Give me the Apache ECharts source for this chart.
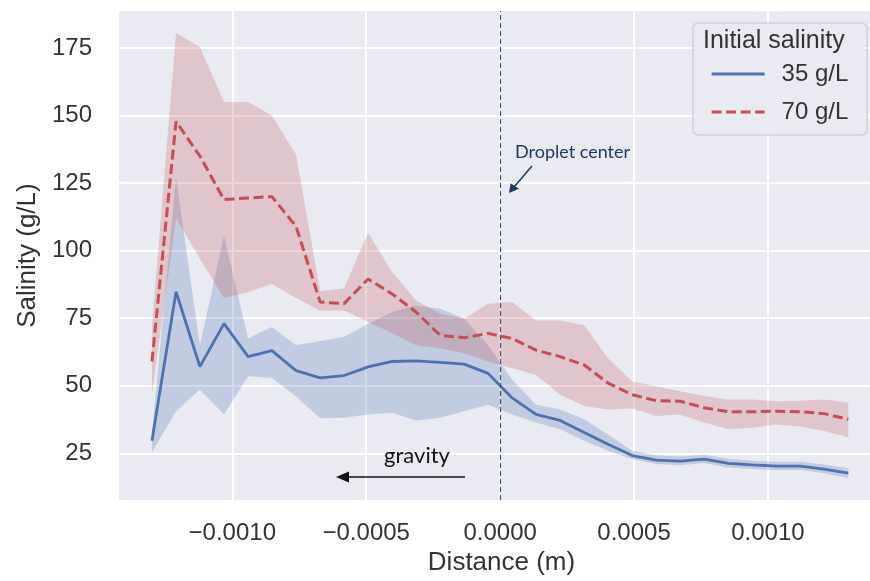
<!DOCTYPE html>
<html>
<head>
<meta charset="utf-8">
<script src="https://cdn.jsdelivr.net/npm/echarts@6/dist/echarts.min.js"></script>
<style>
html,body{margin:0;padding:0;background:#ffffff;}
#chart{width:870px;height:581px;}
</style>
</head>
<body>
<div id="chart"></div>
<script>
// ---- data ----
const distance = [-0.001300, -0.001210, -0.001121, -0.001031, -0.000941, -0.000852, -0.000762, -0.000672,
  -0.000583, -0.000493, -0.000403, -0.000314, -0.000224, -0.000134, -0.000045, 0.000045, 0.000134,
  0.000224, 0.000314, 0.000403, 0.000493, 0.000583, 0.000672, 0.000762, 0.000852, 0.000941,
  0.001031, 0.001121, 0.001210, 0.001300];

const mean35 = [29.7, 84.8, 57.1, 73.0, 60.8, 63.0, 55.6, 52.9, 53.8, 57.0, 59.0, 59.2, 58.7, 58.0, 54.6,
  45.5, 39.4, 37.2, 32.7, 28.4, 24.2, 22.5, 22.1, 22.9, 21.3, 20.7, 20.3, 20.3, 19.2, 17.7];
const high35 = [32.0, 127.0, 65.0, 105.5, 67.5, 71.8, 65.0, 66.6, 68.1, 73.0, 77.3, 79.7, 78.5, 74.9, 65.0,
  52.2, 43.0, 41.2, 37.6, 32.0, 26.0, 24.3, 23.8, 24.5, 23.0, 22.3, 21.9, 21.9, 20.9, 19.5];
const low35 = [25.4, 40.6, 48.6, 39.4, 53.5, 52.9, 46.0, 38.0, 38.2, 39.4, 40.0, 37.2, 38.2, 40.6, 43.0,
  39.4, 36.4, 33.9, 29.7, 26.0, 22.9, 21.1, 20.6, 21.4, 19.8, 19.2, 18.8, 18.8, 17.6, 15.8];

const mean70 = [59.0, 147.8, 135.0, 118.9, 119.5, 120.0, 109.0, 81.0, 80.4, 89.5, 84.0, 77.3, 68.7, 67.8, 69.4,
  67.5, 63.2, 60.8, 57.7, 51.0, 46.7, 44.5, 44.3, 41.9, 40.4, 40.4, 40.6, 40.4, 39.7, 37.6];
const high70 = [72.0, 180.6, 175.4, 155.0, 155.0, 150.0, 135.5, 85.0, 86.0, 106.6, 92.0, 81.6, 76.7, 74.9, 80.4,
  81.0, 74.2, 74.2, 72.4, 60.2, 51.6, 49.8, 48.0, 46.2, 44.9, 44.9, 44.3, 44.5, 44.9, 43.7];
const low70 = [47.0, 112.0, 97.0, 82.5, 84.6, 87.7, 82.5, 77.8, 77.9, 73.6, 69.4, 65.0, 63.9, 62.0, 59.0,
  56.5, 54.1, 46.7, 42.5, 41.2, 41.6, 38.8, 39.4, 36.4, 33.9, 34.5, 35.7, 34.9, 33.3, 30.9];

const xTicks = [-0.0010, -0.0005, 0.0000, 0.0005, 0.0010];
const yTicks = [25, 50, 75, 100, 125, 150, 175];
const seriesNames = ['35 g/L', '70 g/L'];
const legendTitle = 'Initial salinity';
const dropletCenterX = 0;

// ---- helpers ----
const pairs = ys => distance.map((x, i) => [x, ys[i]]);

const FONT = 'Liberation Sans';
const TXT = '#333333';
const BLUE = '#4C72B0';
const RED = '#C44E52';

function bandSeries(lo, hi, fill) {
  return {
    type: 'custom', silent: true, z: 1, clip: true,
    data: distance.map((x, i) => [x, lo[i], hi[i]]),
    encode: {x: 0, y: [1, 2]},
    renderItem: (params, api) => {
      if (params.dataIndex !== 0) return null;
      const top = distance.map((x, i) => api.coord([x, hi[i]]));
      const bot = distance.map((x, i) => api.coord([x, lo[i]])).reverse();
      return {type: 'polygon', shape: {points: top.concat(bot)}, style: {fill: fill}};
    }
  };
}

const chart = echarts.init(document.getElementById('chart'), null, {renderer: 'canvas'});

const option = {
  animation: false,
  backgroundColor: '#ffffff',
  grid: {left: 119, top: 11, right: 0, bottom: 78, show: true, backgroundColor: '#EAEAF2', borderWidth: 0},
  xAxis: {
    type: 'value', min: -0.001423, max: 0.001381,
    axisLine: {show: false},
    axisTick: {show: false, customValues: xTicks},
    axisLabel: {customValues: xTicks, margin: 21, fontSize: 24, color: TXT, fontFamily: FONT,
      formatter: v => (v < 0 ? '\u2212' : '') + Math.abs(v).toFixed(4)},
    splitLine: {show: true, lineStyle: {color: '#ffffff', width: 2}},
    name: 'Distance (m)', nameLocation: 'middle', nameGap: 46,
    nameTextStyle: {fontSize: 26, color: TXT, fontFamily: FONT, padding: [0, 0, 0, 14]}
  },
  yAxis: {
    type: 'value', min: 7.7, max: 188.7,
    axisLine: {show: false},
    axisTick: {show: false, customValues: yTicks},
    axisLabel: {customValues: yTicks, margin: 27, fontSize: 24, color: TXT, fontFamily: FONT},
    splitLine: {show: true, lineStyle: {color: '#ffffff', width: 2}},
    name: 'Salinity (g/L)', nameLocation: 'middle', nameGap: 78,
    nameTextStyle: {fontSize: 26, color: TXT, fontFamily: FONT}
  },
  legend: {
    orient: 'vertical', left: 710, top: 62, padding: 0,
    itemWidth: 53, itemHeight: 14, itemGap: 14,
    data: seriesNames,
    itemStyle: {opacity: 0, borderWidth: 0},
    lineStyle: {width: 3.2},
    textStyle: {fontSize: 24, color: TXT, fontFamily: FONT, padding: [0, 0, 0, 12]}
  },
  series: [
    bandSeries(low35, high35, 'rgba(76,114,176,0.26)'),
    bandSeries(low70, high70, 'rgba(196,78,82,0.24)'),
    {type: 'line', name: seriesNames[0], data: pairs(mean35), symbol: 'none', color: BLUE,
      lineStyle: {color: BLUE, width: 2.8}, z: 2},
    {type: 'line', name: seriesNames[1], data: pairs(mean70), symbol: 'none', color: RED,
      lineStyle: {color: RED, width: 3, type: [10, 4.5]}, z: 2,
      markLine: {silent: true, symbol: ['none', 'none'], label: {show: false},
        lineStyle: {color: '#44546A', width: 1.2, type: [5, 3]},
        data: [{xAxis: dropletCenterX}]}}
  ],
  graphic: {elements: [
    {type: 'rect', z: 3, shape: {x: 693, y: 23, width: 174, height: 112, r: 5},
      style: {fill: 'rgba(234,234,242,0.85)', stroke: '#cfcfd6', lineWidth: 1.5}},
    {type: 'text', z: 5, x: 703, y: 41,
      style: {text: legendTitle, fill: TXT, font: '25px "Liberation Sans"', verticalAlign: 'middle', align: 'left'}},
    {type: 'text', z: 5, x: 515, y: 152,
      style: {text: 'Droplet center', fill: '#1F3864', font: '18px Lato', verticalAlign: 'middle', align: 'left'}},
    {type: 'line', z: 5, shape: {x1: 532, y1: 166, x2: 514.5, y2: 186.5},
      style: {stroke: '#1F3864', lineWidth: 1.5}},
    {type: 'polygon', z: 5, shape: {points: [[509, 193], [519, 188.8], [510.6, 183.2]]},
      style: {fill: '#1F3864'}},
    {type: 'text', z: 5, x: 417, y: 456,
      style: {text: 'gravity', fill: '#111111', font: '22px Lato', verticalAlign: 'middle', align: 'center'}},
    {type: 'line', z: 5, shape: {x1: 465, y1: 477, x2: 347, y2: 477},
      style: {stroke: '#111111', lineWidth: 1.5}},
    {type: 'polygon', z: 5, shape: {points: [[336, 477], [349, 471.5], [349, 482.5]]},
      style: {fill: '#111111'}}
  ]}
};
chart.setOption(option);
</script>
</body>
</html>
